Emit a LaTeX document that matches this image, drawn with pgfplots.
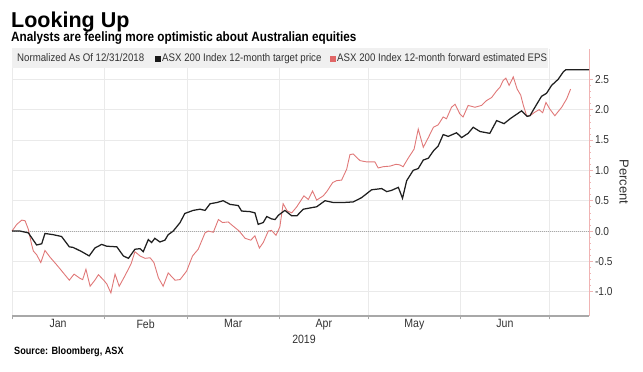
\documentclass[border=0pt]{standalone}
\usepackage{fontspec}
\setmainfont{Liberation Sans}
\newfontfamily\cond[FakeStretch=0.88]{Liberation Sans}
\newfontfamily\condb[FakeStretch=0.87]{Liberation Sans}
\usepackage{pgfplots}
\pgfplotsset{compat=1.18}
\definecolor{redline}{HTML}{E07878}
\definecolor{redsq}{HTML}{E06666}
\definecolor{redaxis}{HTML}{F0B4B4}
\definecolor{gridc}{HTML}{EAEAEA}
\definecolor{axgray}{HTML}{A8A8A8}
\definecolor{txt}{HTML}{333333}
\definecolor{band}{HTML}{F0F0F0}
\begin{document}
\begin{tikzpicture}[x=1pt,y=1pt]
\useasboundingbox (0,0) rectangle (643,372);
% y axis (right) with horizontal grid
\begin{axis}[
  at={(12pt,56pt)}, anchor=south west,
  scale only axis, width=577pt, height=267pt,
  xmin=0, xmax=194.3, ymin=-1.40, ymax=3.0,
  axis x line=none, axis y line=right,
  y axis line style={-, draw=redaxis, line width=0.8pt},
  xtick=\empty,
  ytick={-1,-0.5,0,0.5,1,1.5,2,2.5},
  minor y tick num=4,
  ymajorgrids, grid style={draw=gridc, line width=0.5pt},
  tick align=outside, major tick length=3.5pt, minor tick length=1.8pt,
  tick style={draw=redaxis, line width=0.6pt},
  yticklabel style={font=\cond\fontsize{11.5}{12}\selectfont, text=txt, xshift=-1pt},
  /pgf/number format/.cd, fixed, fixed zerofill, precision=1, assume math mode=true,
]
\addplot[draw=none] coordinates {(0,0)};
\end{axis}
% x axis with vertical grid and data
\begin{axis}[
  at={(12pt,56pt)}, anchor=south west,
  scale only axis, width=577pt, height=267pt,
  xmin=0, xmax=194.3, ymin=-1.40, ymax=3.0,
  axis y line=none, axis x line=bottom,
  x axis line style={-, draw=axgray, line width=1.3pt},
  ytick=\empty,
  xtick={0,31,59,90,120,151,181},
  xticklabels={},
  xmajorgrids, grid style={draw=gridc, line width=0.5pt},
  tick align=outside, major tick length=3.5pt,
  tick style={draw=axgray, line width=0.8pt},
  extra x ticks={15.5,45,74.5,105,135.5,166},
  extra x tick labels={Jan,Feb,Mar,Apr,May,Jun},
  extra x tick style={grid=none, major tick length=0pt, tick style={draw=none}},
  xticklabel style={font=\cond\fontsize{12}{12}\selectfont, text=txt, yshift=0pt},
  clip=false,
]
\addplot[draw=axgray, densely dotted, line width=1pt] coordinates {(0,0)(194.3,0)};
\addplot[draw=redline, line width=0.9pt] coordinates {
(0,0)(1.6,0.11)(3.3,0.18)(4.4,0.17)(5.5,0.03)(6.6,-0.22)(7.2,-0.33)(8.3,-0.39)(9.7,-0.52)(11.1,-0.32)(12.8,-0.43)(15.1,-0.56)(17.3,-0.69)(19.3,-0.81)(20.9,-0.71)(22.9,-0.78)(23.8,-0.80)(24.9,-0.63)(26.3,-0.91)(27.9,-0.81)(29.1,-0.72)(30.7,-0.80)(31.9,-0.87)(33.3,-1.02)(34.7,-0.71)(36.1,-0.91)(38.0,-0.74)(40.1,-0.54)(41.4,-0.34)(43.1,-0.41)(44.8,-0.45)(46.5,-0.44)(47.8,-0.52)(49.3,-0.77)(50.9,-0.91)(52.6,-0.69)(54.9,-0.81)(56.6,-0.80)(58.8,-0.66)(60.8,-0.41)(62.7,-0.30)(65.0,-0.03)(66.1,0)(67.8,-0.02)(69.5,0.19)(70.9,0.14)(72.8,0.15)(74.5,0.08)(76.5,0)(78.5,-0.12)(80.4,-0.15)(81.8,-0.08)(83.3,-0.28)(84.6,-0.19)(86.3,0)(87.4,0.01)(88.9,-0.07)(90.2,0.07)(91.3,0.45)(92.7,0.33)(94.2,0.30)(95.9,0.40)(98.3,0.58)(99.8,0.52)(101.2,0.66)(102.6,0.51)(104.8,0.58)(106.0,0.65)(108.0,0.80)(109.3,0.83)(111.0,0.84)(112.7,1.02)(113.8,1.26)(114.9,1.27)(117.2,1.16)(119.4,1.14)(122.2,1.14)(123.3,1.04)(125.0,1.06)(127.3,1.07)(129.3,1.10)(130.6,1.09)(131.7,1.06)(133.4,1.20)(135.4,1.35)(136.8,1.68)(138.5,1.38)(140.2,1.54)(141.9,1.71)(143.5,1.75)(145.2,1.88)(146.3,1.85)(148.0,2.04)(149.2,2.09)(150.8,1.93)(151.9,1.88)(153.6,2.07)(155.9,2.04)(158.1,2.07)(159.8,2.15)(161.5,2.20)(163.2,2.31)(164.3,2.37)(165.4,2.48)(166.3,2.52)(167.4,2.40)(168.8,2.54)(170.1,2.34)(171.3,2.24)(172.2,2.07)(173.3,1.90)(174.4,1.90)(176.1,1.96)(177.5,2.00)(178.7,1.95)(179.8,2.12)(181.1,2.01)(182.8,1.90)(185.1,2.04)(186.8,2.18)(188.1,2.34)
};
\addplot[draw=black!88, line width=1.25pt] coordinates {
(0,0)(2.7,0)(5.5,-0.03)(8.3,-0.23)(10.0,-0.21)(11.1,-0.04)(13.9,-0.06)(16.7,-0.09)(19.3,-0.26)(20.6,-0.27)(23.5,-0.34)(26.0,-0.41)(27.9,-0.28)(30.2,-0.22)(31.9,-0.25)(35.3,-0.26)(37.5,-0.41)(39.2,-0.45)(41.4,-0.30)(43.1,-0.29)(44.2,-0.34)(45.9,-0.14)(47.0,-0.19)(48.1,-0.12)(49.8,-0.18)(51.5,-0.15)(52.6,-0.06)(54.3,0)(56.6,0.14)(58.2,0.29)(61.0,0.34)(63.3,0.36)(65.0,0.34)(66.7,0.45)(69.0,0.47)(71.1,0.50)(73.4,0.44)(76.2,0.42)(77.3,0.33)(80.1,0.32)(81.8,0.30)(82.9,0.11)(84.6,0.14)(85.8,0.24)(87.4,0.20)(88.6,0.19)(89.7,0.26)(91.9,0.34)(94.2,0.25)(95.9,0.25)(98.1,0.36)(100.3,0.38)(102.6,0.40)(105.4,0.50)(108.2,0.47)(111.5,0.47)(114.9,0.48)(117.7,0.55)(121.1,0.68)(124.5,0.70)(126.2,0.65)(127.8,0.67)(130.1,0.72)(131.5,0.54)(132.9,0.83)(135.1,1.00)(136.8,1.03)(138.5,1.17)(140.2,1.20)(141.9,1.32)(143.5,1.40)(145.2,1.59)(146.9,1.56)(149.7,1.62)(151.4,1.54)(153.6,1.61)(155.3,1.71)(157.6,1.64)(160.9,1.61)(163.2,1.82)(165.7,1.77)(168.0,1.86)(171.6,1.98)(173.5,1.89)(174.4,1.90)(176.7,2.09)(178.3,2.22)(180.0,2.27)(181.7,2.40)(183.9,2.50)(185.6,2.62)(186.5,2.66)(194.3,2.66)
};
\end{axis}
% legend band
\fill[band] (12,304) rectangle (548,324);
\node[anchor=base west, inner sep=0pt, text=txt, font=\cond\fontsize{11}{12}\selectfont] at (17,310) {Normalized As Of 12/31/2018};
\fill[black!90] (155,310) rectangle (161,316);
\node[anchor=base west, inner sep=0pt, text=txt, font=\cond\fontsize{11}{12}\selectfont] at (162,310) {ASX 200 Index 12-month target price};
\fill[redsq] (330,310) rectangle (336,316);
\node[anchor=base west, inner sep=0pt, text=txt, font=\cond\fontsize{11}{12}\selectfont] at (337,310) {ASX 200 Index 12-month forward estimated EPS};
% titles
\node[anchor=base west, inner sep=0pt, font=\bfseries\fontsize{21.5}{22}\selectfont] at (11,344.5) {Looking Up};
\node[anchor=base west, inner sep=0pt, font=\condb\bfseries\fontsize{13.5}{14}\selectfont] at (11,330) {Analysts are feeling more optimistic about Australian equities};
% axis labels
\node[rotate=-90, inner sep=0pt, text=txt, font=\fontsize{13}{14}\selectfont] at (624,190) {Percent};
\node[inner sep=0pt, text=txt, font=\cond\fontsize{12}{12}\selectfont] at (304,33) {2019};
\node[anchor=base west, inner sep=0pt, font=\condb\bfseries\fontsize{10.5}{11}\selectfont] at (14,17.5) {Source: Bloomberg, ASX};
\end{tikzpicture}
\end{document}
